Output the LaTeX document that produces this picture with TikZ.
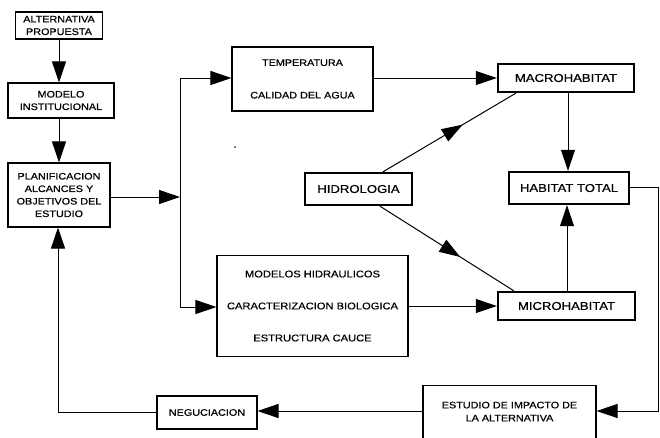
\documentclass[tikz,border=0pt]{standalone}
\usepackage{fontspec}
\setmainfont{Liberation Sans}[FakeStretch=1.15,FakeBold=0.6]
\usetikzlibrary{arrows.meta,decorations.markings,calc}
\begin{document}
\begin{tikzpicture}[x=1pt,y=-1pt,
  box/.style={draw,line width=1.1pt,align=center,inner sep=0pt,font=\fontsize{9.4}{12.5}\selectfont},
  tbox/.style={draw,line width=2.4pt,align=center,inner sep=0pt,font=\fontsize{11.4}{13}\selectfont},
  txt/.style={align=center,inner sep=0pt,font=\fontsize{9.4}{13}\selectfont},
  tip/.tip={Triangle[length=21pt,width=14pt]},
  conn/.style={line width=1pt,-tip},
  thinconn/.style={line width=0.8pt,-tip},
  ln/.style={line width=1pt},
  midarrow/.style={line width=1pt,postaction={decorate},
    decoration={markings,mark=at position #1 with {\arrow{tip}}}}
]
\useasboundingbox (0,0) rectangle (660,437);
\clip (0,0) rectangle (660,437);

% nodes
\node[box,minimum width=87pt,minimum height=27pt] (alt) at (59,25.5) {ALTERNATIVA\\PROPUESTA};
\node[box,minimum width=106pt,minimum height=35pt] (modelo) at (61,100.5) {MODELO\\INSTITUCIONAL};
\node[box,minimum width=102pt,minimum height=64pt] (planif) at (59,195) {PLANIFICACION\\ALCANCES Y\\OBJETIVOS DEL\\ESTUDIO};
\node[box,minimum width=141pt,minimum height=64pt] (temp) at (302.5,79) {TEMPERATURA\\[20pt]CALIDAD DEL AGUA};
\node[tbox,minimum width=136pt,minimum height=28pt] (macro) at (566,78) {MACROHABITAT};
\node[tbox,minimum width=107pt,minimum height=32pt] (hidro) at (358.5,189) {HIDROLOGIA};
\node[tbox,minimum width=120pt,minimum height=32pt] (habtot) at (569,188) {HABITAT TOTAL};
\node[box,minimum width=191pt,minimum height=101pt,font=\fontsize{9.7}{12.5}\selectfont] (modelos) at (312.5,306) {MODELOS HIDRAULICOS\\[19.5pt]CARACTERIZACION BIOLOGICA\\[19.5pt]ESTRUCTURA CAUCE};
\node[tbox,minimum width=137pt,minimum height=28pt] (micro) at (566.5,306) {MICROHABITAT};
\node[box,minimum width=173pt,minimum height=70pt,anchor=north] (estudio) at (509.5,385) {};
\node[txt] (estudiotxt) at (509.5,411.5) {ESTUDIO DE IMPACTO DE\\LA ALTERNATIVA};
\node[box,minimum width=100pt,minimum height=33pt] (neg) at (207,412.5) {NEGUCIACION};

% coordinates
\coordinate (jt) at (180,78);
\coordinate (j) at (180,197);
\coordinate (jb) at (180,307);
\coordinate (xm) at (568,0);
\coordinate (xu) at (567,0);
\coordinate (rt) at (658,187);
\coordinate (rb) at (658,411);
\coordinate (lb) at (58,412);

% connectors
\draw[conn] (alt.south) -- (alt.south |- modelo.north);
\draw[conn] (modelo.south -| alt.south) -- (planif.north -| alt.south);
\draw[conn] (planif.east |- j) -- (j);
\draw[ln] (jt) -- (jb);
\draw[conn] (jt) -- (jt -| temp.west);
\draw[conn] (jb) -- (jb -| modelos.west);
\draw[conn] (temp.east |- macro.west) -- (macro.west);
\draw[midarrow=0.6] ($(hidro.north)+(24.5,0)$) -- ($(macro.south west)+(19,0)$);
\draw[midarrow=0.6] ($(hidro.south)+(21.5,0)$) -- ($(micro.north west)+(17,0)$);
\draw[conn] (macro.south -| xm) -- (habtot.north -| xm);
\draw[thinconn] (micro.north -| xu) -- (habtot.south -| xu);
\draw[conn] (modelos.east |- micro.west) -- (micro.west);
\draw[thinconn] (habtot.east |- rt) -- (rt) -- (rb) -- (rb -| estudio.east);
\draw[conn] (estudio.west |- rb) -- (neg.east |- rb);
\draw[conn] (neg.west |- lb) -- (lb) -- (lb |- planif.south);

% stray dot
\fill (235,147) circle (0.9pt);
\end{tikzpicture}
\end{document}
